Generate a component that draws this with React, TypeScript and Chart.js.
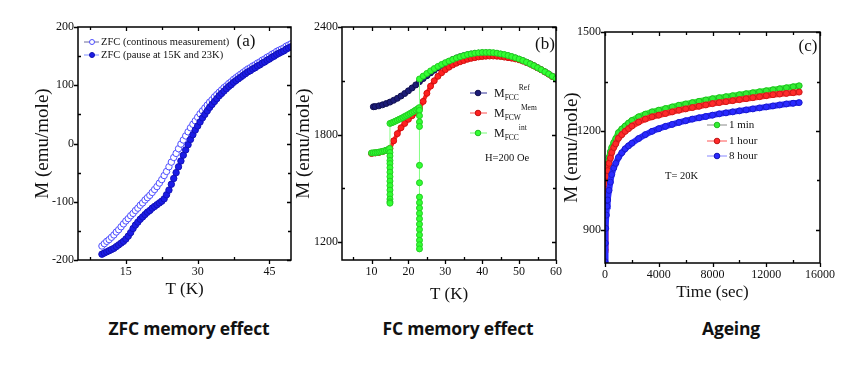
import React, { useEffect, useRef } from "react";
import { Chart, registerables } from "chart.js";
Chart.register(...registerables);

// ---------- Panel (a): ZFC memory effect ----------
const aTemp = [10,10.5,11,11.5,12,12.5,13,13.5,14,14.5,15,15.5,16,16.5,17,17.5,18,18.5,19,19.5,20,20.5,21,21.5,22,22.5,23,23.5,24,24.5,25,25.5,26,26.5,27,27.5,28,28.5,29,29.5,30,30.5,31,31.5,32,32.5,33,33.5,34,34.5,35,35.5,36,36.5,37,37.5,38,38.5,39,39.5,40,40.5,41,41.5,42,42.5,43,43.5,44,44.5,45,45.5,46,46.5,47,47.5,48,48.5,49,49.5];
const aContinuous = [-176,-172,-168,-165,-161,-157,-152,-148,-143,-138,-133,-129,-124,-120,-115,-111,-106,-102,-97,-93,-89,-84,-79,-74,-68,-62,-55,-48,-40,-32,-24,-17,-9,-1,6,13,20,27,33,39,45,51,56,61,66,71,75,80,84,88,92,96,99,103,106,110,113,116,119,122,125,128,130,133,135,138,140,143,145,148,150,153,155,158,160,162,164,167,169,171];
const aPause = [-190,-188,-186,-184,-182,-180,-177,-174,-171,-168,-164,-159,-153,-146,-140,-135,-130,-126,-122,-118,-115,-111,-108,-105,-102,-99,-95,-88,-80,-70,-60,-50,-40,-30,-20,-11,-2,7,15,23,30,37,44,50,56,62,67,72,77,82,86,90,94,98,101,105,108,111,114,117,120,123,125,128,130,133,135,138,140,143,145,148,150,153,155,157,159,162,164,166];
const aXTicks = [15, 30, 45];
const aXMinor = [7.5, 22.5, 37.5];
const aYTicks = [-200, -100, 0, 100, 200];
const aYMinor = [-150, -50, 50, 150];
const aLegend = ["ZFC (continous measurement)", "ZFC (pause at 15K and 23K)"];

// ---------- Panel (b): FC memory effect ----------
const bRefT = [10.5,11,12,13,14,15,16,17,18,19,20,21,22,23,24,25,26,27,28,29,30,31,32,33,34,35,36,37,38,39,40,41,42,43,44,45,46,47,48,49,50,51,52,53,54,55,56,57,58,59,60];
const bRefM = [1955,1956,1960,1966,1973,1981,1991,2002,2015,2029,2044,2060,2077,2095,2112,2128,2144,2159,2173,2186,2198,2208,2218,2227,2234,2240,2245,2249,2252,2254,2255,2255,2255,2253,2251,2248,2244,2239,2233,2227,2220,2212,2203,2194,2184,2173,2162,2150,2138,2125,2111];
const bMemT = [10,11,12,13,14,15,16,17,18,19,20,21,22,23,24,25,26,27,28,29,30,31,32,33,34,35,36,37,38,39,40,41,42,43,44,45,46,47,48,49,50,51,52,53,54,55,56,57,58,59,60];
const bMemM = [1694,1697,1700,1705,1712,1722,1765,1805,1838,1862,1885,1905,1922,1945,1985,2030,2070,2100,2125,2145,2162,2176,2188,2198,2206,2213,2220,2225,2229,2233,2235,2237,2238,2238,2237,2235,2232,2229,2226,2222,2217,2210,2202,2193,2183,2172,2161,2149,2137,2124,2110];
const bIntT = [10,10.5,11,11.5,12,12.5,13,13.5,14,14.5,14.9,
  15,15,15,15,15,15,15,15,15,15,15,15,15,15,15,
  15.5,16,16.5,17,17.5,18,18.5,19,19.5,20,20.5,21,21.5,22,22.5,22.9,
  23,23,23,23,23,23,23,23,23,23,23,23,23,23,23,23,23,23,
  24,25,26,27,28,29,30,31,32,33,34,35,36,37,38,39,40,41,42,43,44,45,46,47,48,49,50,51,52,53,54,55,56,57,58,59,60];
const bIntM = [1697,1698,1699,1700,1702,1704,1706,1709,1712,1716,1722,
  1700,1680,1655,1638,1615,1590,1565,1540,1515,1490,1465,1440,1425,1417,1862,
  1866,1870,1875,1880,1885,1890,1895,1901,1906,1912,1918,1924,1930,1937,1943,1950,
  1935,1905,1870,1845,1628,1531,1451,1420,1390,1360,1330,1300,1270,1240,1210,1185,1162,2110,
  2126,2141,2155,2168,2180,2191,2201,2210,2219,2227,2234,2240,2246,2250,2254,2256,2258,2258,2258,2257,2254,2250,2246,2241,2235,2228,2221,2213,2204,2194,2184,2173,2162,2150,2138,2125,2111];
const bXTicks = [10, 20, 30, 40, 50, 60];
const bXMinor = [5, 15, 25, 35, 45, 55];
const bYTicks = [1200, 1800, 2400];
const bYMinor = [1500, 2100];
const bLegendSub = ["FCC", "FCW", "FCC"];
const bLegendSup = ["Ref", "Mem", "int"];

// ---------- Panel (c): Ageing ----------
const cTime = [0,25,50,100,150,200,300,400,500,650,800,1000,1250,1500,1750,2000,2500,3000,3500,4000,4500,5000,5500,6000,6500,7000,7500,8000,8500,9000,9500,10000,10500,11000,11500,12000,12500,13000,13500,14000,14450];
const c1min = [905,990,1030,1065,1085,1100,1120,1137,1150,1165,1177,1195,1206,1215,1224,1232,1243,1251,1258,1263,1268,1273,1278,1282,1286,1290,1294,1298,1301,1304,1307,1310,1313,1316,1319,1322,1325,1328,1331,1334,1337];
const c1hour = [840,950,1000,1040,1063,1080,1102,1118,1135,1150,1161,1178,1189,1199,1207,1215,1227,1236,1243,1248,1253,1258,1263,1267,1271,1275,1279,1283,1286,1289,1292,1295,1298,1301,1304,1307,1310,1312,1314,1316,1318];
const c8hour = [804,860,905,945,972,991,1020,1045,1068,1088,1102,1120,1134,1146,1155,1163,1177,1189,1199,1207,1214,1220,1226,1231,1236,1240,1244,1248,1252,1255,1258,1261,1264,1267,1270,1273,1276,1279,1282,1284,1286];
const cXTicks = [0, 4000, 8000, 12000, 16000];
const cXMinor = [2000, 6000, 10000, 14000];
const cYTicks = [900, 1200, 1500];
const cYMinor = [1050, 1350];
const cLegend = ["1 min", "1 hour", "8 hour"];

const captions = ["ZFC memory effect", "FC memory effect", "Ageing"];

const SERIF = "'Liberation Serif', 'Times New Roman', serif";

function pts(xs: number[], ys: number[]) {
  return xs.map((x, i) => ({ x, y: ys[i] }));
}

function makeScale(o: {
  min: number; max: number; ticks: number[]; size: number; isX: boolean;
  title: string; titleSize: number; titlePad: number;
}) {
  return {
    type: "linear",
    position: o.isX ? "bottom" : "left",
    min: o.min,
    max: o.max,
    grid: { display: false, drawTicks: false, tickLength: 0 },
    border: { display: false },
    afterBuildTicks: (s: any) => {
      s.ticks = o.ticks.map((v) => ({ value: v }));
    },
    afterFit: (s: any) => {
      if (o.isX) s.height = o.size;
      else s.width = o.size;
    },
    ticks: {
      autoSkip: false,
      maxRotation: 0,
      minRotation: 0,
      padding: o.isX ? 4.8 : 4,
      color: "#111",
      font: { family: SERIF, size: 12 },
      callback: (v: any) => String(v),
    },
    title: {
      display: true,
      text: o.title,
      color: "#111",
      font: { family: SERIF, size: o.titleSize },
      padding: o.isX ? { top: 0, bottom: o.titlePad } : { top: o.titlePad, bottom: 0 },
    },
  };
}

function framePlugin(xMajor: number[], xMinor: number[], yMajor: number[], yMinor: number[]) {
  return {
    id: "frameTicks",
    afterDraw(chart: any) {
      const { ctx, chartArea } = chart;
      const { left, right, top, bottom } = chartArea;
      const xs = chart.scales.x;
      const ys = chart.scales.y;
      ctx.save();
      ctx.strokeStyle = "#000";
      ctx.lineWidth = 1.5;
      ctx.strokeRect(left, top, right - left, bottom - top);
      ctx.lineWidth = 1.3;
      ctx.beginPath();
      for (const v of xMajor) {
        const p = Math.round(xs.getPixelForValue(v)) + 0.5;
        ctx.moveTo(p, bottom); ctx.lineTo(p, bottom + 4);
        ctx.moveTo(p, top); ctx.lineTo(p, top + 4);
      }
      for (const v of xMinor) {
        const p = Math.round(xs.getPixelForValue(v)) + 0.5;
        ctx.moveTo(p, bottom); ctx.lineTo(p, bottom - 3);
        ctx.moveTo(p, top); ctx.lineTo(p, top + 3);
      }
      for (const v of yMajor) {
        const p = Math.round(ys.getPixelForValue(v)) + 0.5;
        ctx.moveTo(left, p); ctx.lineTo(left - 4, p);
        ctx.moveTo(right, p); ctx.lineTo(right - 4, p);
      }
      for (const v of yMinor) {
        const p = Math.round(ys.getPixelForValue(v)) + 0.5;
        ctx.moveTo(left, p); ctx.lineTo(left + 3, p);
        ctx.moveTo(right, p); ctx.lineTo(right - 3, p);
      }
      ctx.stroke();
      ctx.restore();
    },
  };
}

function marker(ctx: any, x: number, y: number, r: number, fill: string, stroke: string) {
  ctx.beginPath();
  ctx.arc(x, y, r, 0, Math.PI * 2);
  ctx.fillStyle = fill;
  ctx.fill();
  ctx.lineWidth = 1;
  ctx.strokeStyle = stroke;
  ctx.stroke();
}

function legendLine(ctx: any, x1: number, x2: number, y: number, color: string) {
  ctx.beginPath();
  ctx.moveTo(x1, y);
  ctx.lineTo(x2, y);
  ctx.lineWidth = 1;
  ctx.strokeStyle = color;
  ctx.stroke();
}

const textA = {
  id: "textA",
  afterDraw(chart: any) {
    const ctx = chart.ctx;
    ctx.save();
    ctx.textBaseline = "middle";
    ctx.textAlign = "left";
    ctx.font = `10.5px ${SERIF}`;
    legendLine(ctx, 84, 99, 42, "#6b6b9b");
    marker(ctx, 92, 42, 2.5, "#ffffff", "#4d4dff");
    ctx.fillStyle = "#111";
    ctx.fillText(aLegend[0], 101, 42.5);
    legendLine(ctx, 84, 99, 55, "#7f8fff");
    marker(ctx, 92, 55, 2.5, "#1c1ce6", "#1010b0");
    ctx.fillStyle = "#111";
    ctx.fillText(aLegend[1], 101, 55.5);
    ctx.font = `17px ${SERIF}`;
    ctx.textAlign = "center";
    ctx.fillText("(a)", 246, 42);
    ctx.restore();
  },
};

const textB = {
  id: "textB",
  afterDraw(chart: any) {
    const ctx = chart.ctx;
    ctx.save();
    const rows = [93, 113, 133];
    const lines = ["#33339a", "#ff5050", "#77ff77"];
    const fills = ["#1c1c78", "#ff2020", "#33ff33"];
    const strokes = ["#101050", "#c01010", "#22bb22"];
    ctx.textBaseline = "alphabetic";
    ctx.textAlign = "left";
    rows.forEach((y, i) => {
      legendLine(ctx, 180, 197, y, lines[i]);
      marker(ctx, 188, y, 2.8, fills[i], strokes[i]);
      ctx.fillStyle = "#111";
      ctx.font = `12px ${SERIF}`;
      ctx.fillText("M", 204, y + 4);
      const w = ctx.measureText("M").width;
      ctx.font = `7.5px ${SERIF}`;
      ctx.fillText(bLegendSub[i], 204 + w, y + 7);
      const ws = ctx.measureText(bLegendSub[i]).width;
      ctx.fillText(bLegendSup[i], 204 + w + ws, y - 3);
    });
    ctx.font = `10.5px ${SERIF}`;
    ctx.textBaseline = "middle";
    ctx.fillText("H=200 Oe", 195, 158);
    ctx.font = `17px ${SERIF}`;
    ctx.textAlign = "center";
    ctx.fillText("(b)", 255, 45);
    ctx.restore();
  },
};

const textC = {
  id: "textC",
  afterDraw(chart: any) {
    const ctx = chart.ctx;
    ctx.save();
    const rows = [125, 141, 156];
    const lines = ["#8a8a8a", "#ff5555", "#8888ff"];
    const fills = ["#33ee33", "#ff2a2a", "#2a2aff"];
    const strokes = ["#1fbb1f", "#c01515", "#1515b0"];
    ctx.textBaseline = "middle";
    ctx.textAlign = "left";
    ctx.font = `11px ${SERIF}`;
    rows.forEach((y, i) => {
      legendLine(ctx, 147, 167, y, lines[i]);
      marker(ctx, 157, y, 2.8, fills[i], strokes[i]);
      ctx.fillStyle = "#111";
      ctx.fillText(cLegend[i], 169, y + 0.5);
    });
    ctx.font = `10.5px ${SERIF}`;
    ctx.fillText("T= 20K", 105, 176);
    ctx.font = `17px ${SERIF}`;
    ctx.textAlign = "center";
    ctx.fillText("(c)", 248, 47);
    ctx.restore();
  },
};

function configA(): any {
  return {
    type: "scatter",
    data: {
      datasets: [
        {
          data: pts(aTemp, aPause),
          showLine: true,
          borderColor: "#2a2aee",
          borderWidth: 3,
          pointRadius: 3.2,
          pointBackgroundColor: "#1c1ce6",
          pointBorderColor: "#1212b8",
          pointBorderWidth: 1,
          order: 0,
        },
        {
          data: pts(aTemp, aContinuous),
          showLine: true,
          borderColor: "#8080ff",
          borderWidth: 1,
          pointRadius: 3.2,
          pointBackgroundColor: "#ffffff",
          pointBorderColor: "#4d4dff",
          pointBorderWidth: 1,
          order: 1,
        },
      ],
    },
    options: {
      responsive: false,
      animation: false,
      devicePixelRatio: 1,
      layout: { padding: { left: 0, top: 27, right: 9, bottom: 0 } },
      plugins: { legend: { display: false }, tooltip: { enabled: false } },
      scales: {
        x: makeScale({ min: 5, max: 49.5, ticks: aXTicks, size: 45, isX: true, title: "T (K)", titleSize: 17, titlePad: 4.8 }),
        y: makeScale({ min: -200, max: 200, ticks: aYTicks, size: 78, isX: false, title: "M (emu/mole)", titleSize: 19, titlePad: 31.6 }),
      },
    },
    plugins: [framePlugin(aXTicks, aXMinor, aYTicks, aYMinor), textA],
  };
}

function configB(): any {
  return {
    type: "scatter",
    data: {
      datasets: [
        {
          data: pts(bIntT, bIntM),
          showLine: true,
          borderColor: "#44ff44",
          borderWidth: 1,
          segment: {
            borderWidth: (c: any) => (Math.abs(c.p0.parsed.x - c.p1.parsed.x) < 0.01 ? 1 : 4),
            borderColor: (c: any) => (Math.abs(c.p0.parsed.x - c.p1.parsed.x) < 0.01 ? "#88ff88" : "#33ff33"),
          },
          pointRadius: 3,
          pointBackgroundColor: "#33ff33",
          pointBorderColor: "#22cc22",
          pointBorderWidth: 1,
          order: 0,
        },
        {
          data: pts(bMemT, bMemM),
          showLine: true,
          borderColor: "#ff2020",
          borderWidth: 4,
          pointRadius: 3,
          pointBackgroundColor: "#ff2020",
          pointBorderColor: "#d01010",
          pointBorderWidth: 1,
          order: 1,
        },
        {
          data: pts(bRefT, bRefM),
          showLine: true,
          borderColor: "#1c1c78",
          borderWidth: 4,
          pointRadius: 3,
          pointBackgroundColor: "#1c1c78",
          pointBorderColor: "#101050",
          pointBorderWidth: 1,
          order: 2,
        },
      ],
    },
    options: {
      responsive: false,
      animation: false,
      devicePixelRatio: 1,
      layout: { padding: { left: 0, top: 27, right: 14, bottom: 0 } },
      plugins: { legend: { display: false }, tooltip: { enabled: false } },
      scales: {
        x: makeScale({ min: 2, max: 60, ticks: bXTicks, size: 50, isX: true, title: "T (K)", titleSize: 17, titlePad: 4.8 }),
        y: makeScale({ min: 1100, max: 2400, ticks: bYTicks, size: 52, isX: false, title: "M (emu/mole)", titleSize: 19, titlePad: 2.6 }),
      },
    },
    plugins: [framePlugin(bXTicks, bXMinor, bYTicks, bYMinor), textB],
  };
}

function configC(): any {
  const ds = (ys: number[], color: string, edge: string, order: number) => ({
    data: pts(cTime, ys),
    showLine: true,
    borderColor: color,
    borderWidth: 6,
    pointRadius: 3,
    pointBackgroundColor: color,
    pointBorderColor: edge,
    pointBorderWidth: 1,
    order,
  });
  return {
    type: "scatter",
    data: {
      datasets: [
        ds(c8hour, "#2a2aff", "#1a1acc", 0),
        ds(c1hour, "#ff2a2a", "#cc1a1a", 1),
        ds(c1min, "#33ee33", "#1fbb1f", 2),
      ],
    },
    options: {
      responsive: false,
      animation: false,
      devicePixelRatio: 1,
      layout: { padding: { left: 0, top: 32, right: 28, bottom: 0 } },
      plugins: { legend: { display: false }, tooltip: { enabled: false } },
      scales: {
        x: makeScale({ min: 0, max: 16000, ticks: cXTicks, size: 47, isX: true, title: "Time (sec)", titleSize: 17, titlePad: 6.8 }),
        y: makeScale({ min: 800, max: 1500, ticks: cYTicks, size: 45, isX: false, title: "M (emu/mole)", titleSize: 19, titlePad: 1 }),
      },
    },
    plugins: [framePlugin(cXTicks, cXMinor, cYTicks, cYMinor), textC],
  };
}

function Panel({ make, left, top, width, height }: any) {
  const ref = useRef<HTMLCanvasElement>(null);
  useEffect(() => {
    const chart = new Chart(ref.current as HTMLCanvasElement, make());
    return () => chart.destroy();
  }, []);
  return (
    <div style={{ position: "absolute", left, top, width, height }}>
      <canvas ref={ref} width={width} height={height} style={{ display: "block", width, height }} />
    </div>
  );
}

const captionStyle: any = {
  position: "absolute",
  top: 316,
  width: 240,
  height: 24,
  lineHeight: "24px",
  textAlign: "center",
  fontFamily: "'Open Sans', 'Noto Sans', sans-serif",
  fontWeight: 700,
  fontSize: 17.5,
  letterSpacing: "-0.2px",
  color: "#111",
  whiteSpace: "nowrap",
};

export default function App() {
  return (
    <div style={{ position: "absolute", left: 0, top: 0, width: 848, height: 377, background: "#fff", overflow: "hidden" }}>
      <Panel make={configA} left={0} top={0} width={300} height={305} />
      <Panel make={configB} left={290} top={0} width={280} height={310} />
      <Panel make={configC} left={560} top={0} width={288} height={310} />
      <div style={{ ...captionStyle, left: 189 - 120 }}>{captions[0]}</div>
      <div style={{ ...captionStyle, left: 458 - 120 }}>{captions[1]}</div>
      <div style={{ ...captionStyle, left: 731 - 120 }}>{captions[2]}</div>
    </div>
  );
}
